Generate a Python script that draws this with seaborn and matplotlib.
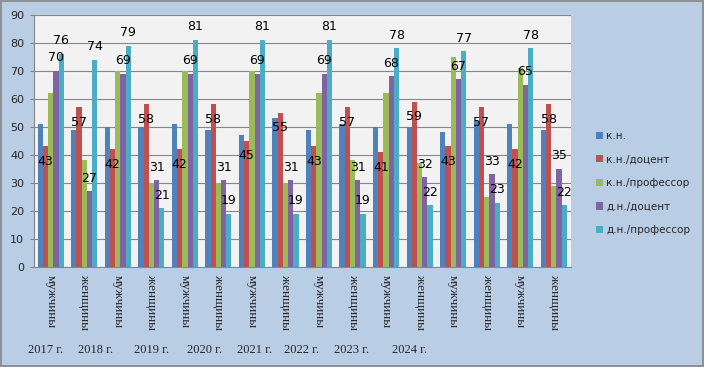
#import libraries
import numpy as np
import pandas as pd
import matplotlib.pyplot as plt
import matplotlib.patches as mpatches
import seaborn as sns

#data
years = ["2017 г.", "2018 г.", "2019 г.", "2020 г.", "2021 г.", "2022 г.", "2023 г.", "2024 г."]
sex_labels = ["мужчины", "женщины"] * 8
series_names = ["к.н.", "к.н./доцент", "к.н./профессор", "д.н./доцент", "д.н./профессор"]

kn = [51, 49, 50, 50, 51, 49, 47, 53, 49, 51, 50, 50, 48, 52, 51, 49]
kn_docent = [43, 57, 42, 58, 42, 58, 45, 55, 43, 57, 41, 59, 43, 57, 42, 58]
kn_prof = [62, 38, 70, 30, 70, 30, 70, 30, 62, 38, 62, 37, 75, 25, 71, 29]
dn_docent = [70, 27, 69, 31, 69, 31, 69, 31, 69, 31, 68, 32, 67, 33, 65, 35]
dn_prof = [76, 74, 79, 21, 81, 19, 81, 19, 81, 19, 78, 22, 77, 23, 78, 22]

colors = ["#4F81BD", "#C0504D", "#9BBB59", "#8064A2", "#4BACC6"]

#long form table
group_ids = [f"g{i:02d}" for i in range(len(sex_labels))]
rows = []
for name, vals in zip(series_names, [kn, kn_docent, kn_prof, dn_docent, dn_prof]):
    for g, v in zip(group_ids, vals):
        rows.append({"group": g, "series": name, "value": v})
df = pd.DataFrame(rows)

sns.set_style("white")
plt.rcParams["font.family"] = ["DejaVu Sans"]

fig = plt.figure(figsize=(7.04, 3.67), dpi=100, facecolor="#B9CDE5")
ax = fig.add_axes([34/704, 1-267/367, 536.5/704, 252.3/367])
ax.set_facecolor("#F2F2F2")

sns.barplot(
    data=df, x="group", y="value", hue="series",
    order=group_ids, hue_order=series_names,
    palette=colors, saturation=1, width=0.78,
    edgecolor="none", linewidth=0, ax=ax
)

#data labels: red inside end, purple/cyan above
for idx, container in enumerate(ax.containers):
    if idx not in (1, 3, 4):
        continue
    off = -10.8 if idx == 1 else 9.4
    for bar in container:
        h = bar.get_height()
        ax.annotate(f"{h:.0f}", (bar.get_x() + bar.get_width()/2, h),
                    xytext=(0, off), textcoords="offset points",
                    ha="center", va="center", fontsize=9, color="black")

ax.set_ylim(0, 90)
ax.set_xlim(-0.5, len(group_ids) - 0.5)
ax.set_yticks(range(0, 91, 10))
ax.yaxis.grid(True, color="#868686", linewidth=0.8)
ax.set_axisbelow(True)
ax.set_xlabel("")
ax.set_ylabel("")

ax.set_xticks(range(len(group_ids)))
ax.set_xticklabels(sex_labels, rotation=-90, family="Liberation Serif", fontsize=9.5, va="top")
ax.tick_params(axis="x", length=0, pad=6)
ax.tick_params(axis="y", length=3, width=0.8, color="#868686", pad=4, labelsize=8, left=True)

for s in ["top", "right"]:
    ax.spines[s].set_visible(False)
ax.spines["left"].set_color("#868686")
ax.spines["bottom"].set_color("#868686")
ax.spines["left"].set_linewidth(0.8)
ax.spines["bottom"].set_linewidth(0.8)

#legend
sns.move_legend(
    ax, loc="center left", bbox_to_anchor=(1.03, 0.333),
    frameon=False, title=None, fontsize=7.5,
    handlelength=0.7, handleheight=0.7, handletextpad=0.3,
    labelspacing=1.3
)

#year captions
year_x = [46, 96, 152, 205, 255, 302, 352, 410]
for yr, xp in zip(years, year_x):
    fig.text(xp/704, 1-350/367, yr, ha="center", va="center",
             family="Liberation Serif", fontsize=9)

#outer border
fig.patches.append(mpatches.Rectangle((0.001, 0.002), 0.997, 0.995, transform=fig.transFigure,
                                      fill=False, edgecolor="#868686", linewidth=1.2))

plt.savefig("out.png", dpi=100, facecolor=fig.get_facecolor())
